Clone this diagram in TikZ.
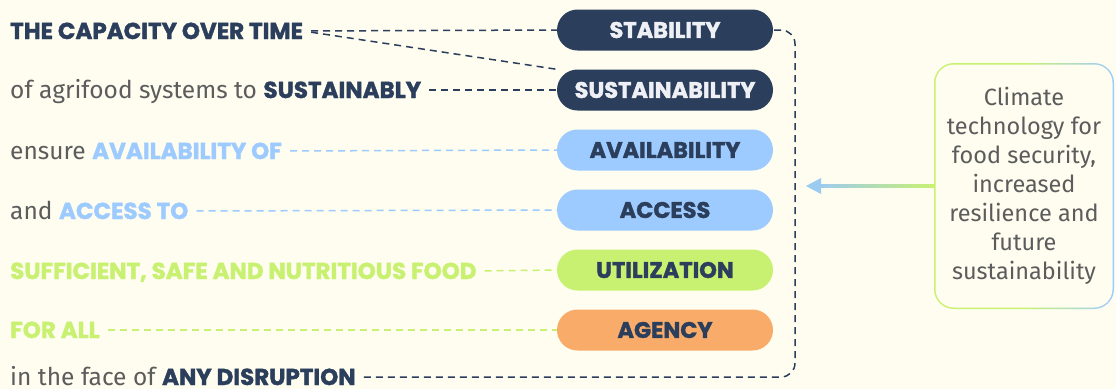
\documentclass[tikz,border=0pt]{standalone}
\usepackage{fontspec}
\setmainfont{Fira Sans}
\newfontfamily\pop{Poppins}[BoldFeatures={FakeBold=1.6}]
\usetikzlibrary{arrows.meta,calc}
\definecolor{bgc}{HTML}{FEFDF0}
\definecolor{navy}{HTML}{2B3E5C}
\definecolor{lblue}{HTML}{9DCBFF}
\definecolor{lgreen}{HTML}{C9F171}
\definecolor{orng}{HTML}{F9AB6A}
\definecolor{pilltxt}{HTML}{EEF0F5}
\definecolor{graytxt}{HTML}{5C5C5C}
\definecolor{arrblue}{HTML}{9CCBF2}
\tikzset{
  pill/.style={rounded corners=20.5pt, minimum width=216pt, minimum height=41pt, inner sep=0pt,
    font=\pop\bfseries\fontsize{22.5}{26}\selectfont},
  lefttxt/.style={anchor=west, inner sep=0pt, text height=16pt, text depth=0pt,
    font=\fontsize{24.5}{26}\selectfont, text=graytxt},
  conn/.style={dash pattern=on 7pt off 5pt, line width=1.5pt},
}
\newcommand{\hb}[1]{{\pop\bfseries\fontsize{23}{26}\selectfont #1}}
\begin{document}
\begin{tikzpicture}[x=1pt,y=-1pt]
\useasboundingbox (0,0) rectangle (1116,389);
\fill[bgc] (0,0) rectangle (1116,389);
% pills
\node[pill, fill=navy, text=pilltxt] (stab) at (665,30) {STABILITY};
\node[pill, fill=navy, text=pilltxt] (sust) at (665,90) {SUSTAINABILITY};
\node[pill, fill=lblue, text=navy] (avail) at (665,150) {AVAILABILITY};
\node[pill, fill=lblue, text=navy] (acc) at (665,210) {ACCESS};
\node[pill, fill=lgreen, text=navy] (util) at (665,270) {UTILIZATION};
\node[pill, fill=orng, text=navy] (agen) at (665,330) {AGENCY};
% left texts
\node[lefttxt] (t1) at (10,31) {\textcolor{navy}{\hb{THE CAPACITY OVER TIME}}};
\node[lefttxt] (t2) at (10,90) {of agrifood systems to \textcolor{navy}{\hb{SUSTAINABLY}}};
\node[lefttxt] (t3) at (10,151) {ensure \textcolor{lblue}{\hb{AVAILABILITY OF}}};
\node[lefttxt] (t4) at (10,211) {and \textcolor{lblue}{\hb{ACCESS TO}}};
\node[lefttxt] (t5) at (10,271) {\textcolor{lgreen}{\hb{SUFFICIENT, SAFE AND NUTRITIOUS FOOD}}};
\node[lefttxt] (t6) at (10,330) {\textcolor{lgreen}{\hb{FOR ALL}}};
\node[lefttxt] (t7) at (10,377) {in the face of \textcolor{navy}{\hb{ANY DISRUPTION}}};
% connectors
\draw[conn, navy, shorten <=8pt] (t1.east) -- (stab.west);
\draw[conn, navy, shorten <=8pt] (t1.east) -- (sust.north west);
\draw[conn, navy, shorten <=8pt] (t2.east) -- (sust.west);
\draw[conn, lblue, shorten <=8pt] (t3.east) -- (avail.west);
\draw[conn, lblue, shorten <=8pt] (t4.east) -- (acc.west);
\draw[conn, lgreen, shorten <=8pt] (t5.east) -- (util.west);
\draw[conn, lgreen, shorten <=8pt] (t6.east) -- (agen.west);
\coordinate (cr) at (795,0);
\draw[conn, navy, shorten <=8pt, rounded corners=14pt] (t7.east) -- (t7.east -| cr) -- (stab.east -| cr) -- (stab.east);
% right box
\shade[shading angle=90, left color=lgreen, right color=lblue, rounded corners=20pt, middle color=lgreen] (934,63) rectangle (1114,309);
\node[fill=bgc, rounded corners=18.5pt, minimum width=177pt, minimum height=243pt, inner sep=0pt,
  align=center, text=graytxt, font=\fontsize{23.5}{29}\selectfont] (clim) at (1024,186)
  {Climate\\technology for\\food security,\\increased\\resilience and\\future\\sustainability};
\coordinate (tip) at (806,186);
\shade[left color=arrblue, right color=lgreen] ($(tip)+(12,-1.5)$) rectangle ($(clim.west)+(-1.5,1.5)$);
\fill[arrblue] (tip) -- ++(15,-8) -- ++(0,16) -- cycle;
\end{tikzpicture}
\end{document}
